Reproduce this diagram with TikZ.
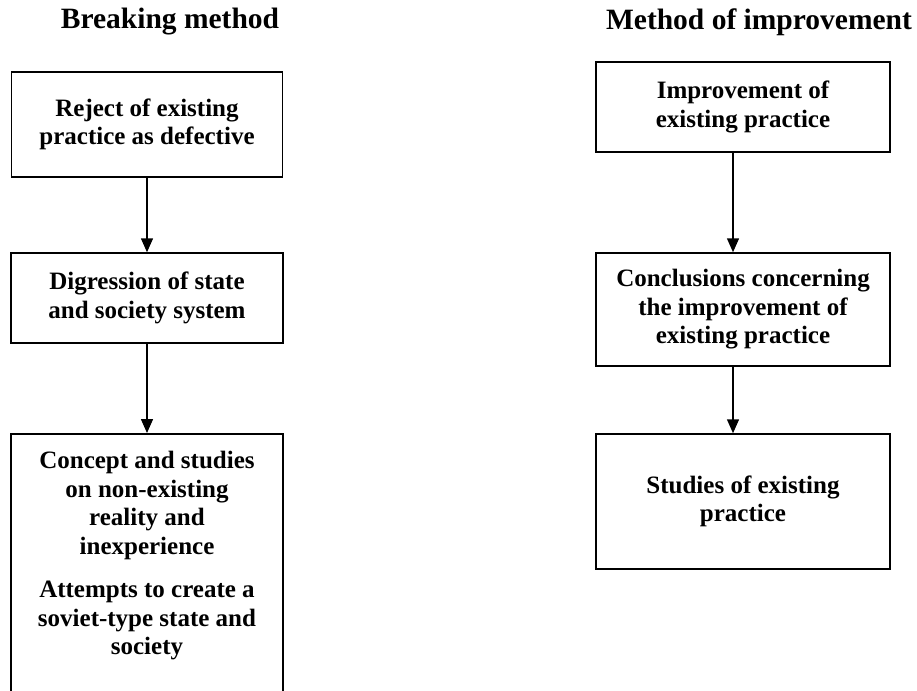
\documentclass[tikz,border=0pt]{standalone}
\usepackage{fontspec}
\setmainfont{Liberation Serif}
\usetikzlibrary{arrows.meta}
\tikzset{
  box/.style={draw, line width=1.5pt, inner sep=0pt, align=center,
    font=\bfseries\fontsize{25}{28.5}\selectfont},
  boxtext/.style={inner sep=0pt, align=center,
    font=\bfseries\fontsize{25}{28.5}\selectfont},
  ttl/.style={inner sep=0pt, font=\bfseries\fontsize{29.5}{34}\selectfont},
  arr/.style={line width=1.5pt, -{Triangle[length=14pt,width=12pt]}},
}
\begin{document}
\begin{tikzpicture}[x=1pt,y=-1pt]
\useasboundingbox (0,0) rectangle (917,690);
% titles
\node[ttl] (t1) at (170,22) {Breaking method};
\node[ttl] (t2) at (759,22) {Method of improvement};
% left column
\node[box, minimum width=271pt, minimum height=105pt] (L1) at (147,124.5)
  {Reject of existing\\practice as defective};
\node[box, minimum width=272pt, minimum height=90pt] (L2) at (147,298)
  {Digression of state\\and society system};
\node[box, minimum width=272pt, minimum height=270pt, anchor=north] (L3) at (147,433) {};
\node[boxtext, anchor=north] (L3t) at ([yshift=-18pt]L3.north)
  {Concept and studies\\on non-existing\\reality and\\inexperience\\[15pt]Attempts to create a\\soviet-type state and\\society};
% right column
\node[box, minimum width=294pt, minimum height=90pt] (R1) at (743,107)
  {Improvement of\\existing practice};
\node[box, minimum width=294pt, minimum height=113pt] (R2) at (743,309.5)
  {Conclusions concerning\\the improvement of\\existing practice};
\node[box, minimum width=294pt, minimum height=135pt] (R3) at (743,501.5)
  {Studies of existing\\practice};
% arrows
\draw[arr] (L1.south) -- (L2.north);
\draw[arr] (L2.south) -- (L3.north);
\draw[arr] ([xshift=-10pt]R1.south) -- ([xshift=-10pt]R2.north);
\draw[arr] ([xshift=-10pt]R2.south) -- ([xshift=-10pt]R3.north);
\end{tikzpicture}
\end{document}
